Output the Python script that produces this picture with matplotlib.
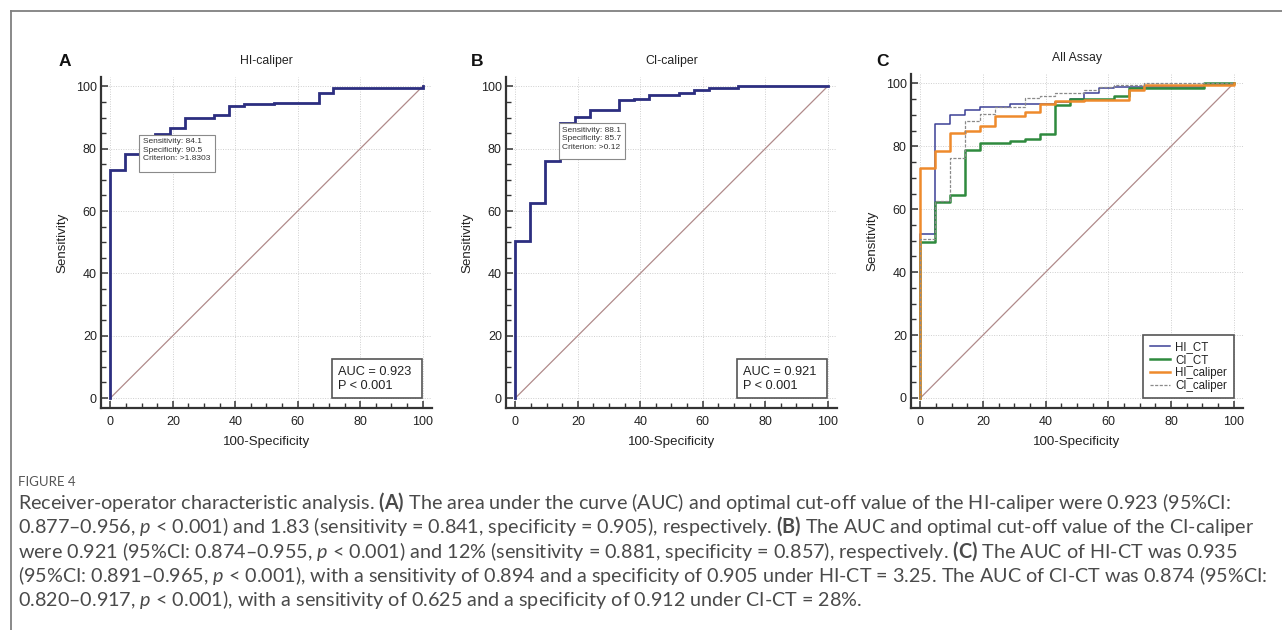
import matplotlib
matplotlib.use('Agg')
import matplotlib.pyplot as plt
from matplotlib.patches import Rectangle
from matplotlib.lines import Line2D
from matplotlib.ticker import MultipleLocator

# ROC curves: 100-Specificity (x) vs Sensitivity (y), step points
hi_caliper_x = [0, 0, 4.76, 9.52, 14.29, 19.05, 23.81, 33.33, 38.10, 42.86, 52.38, 66.67, 71.43, 100]
hi_caliper_y = [0, 73.2, 78.4, 84.1, 84.8, 86.5, 89.7, 90.8, 93.6, 94.3, 94.8, 97.9, 99.5, 100]

ci_caliper_x = [0, 0, 4.76, 9.52, 14.29, 19.05, 23.81, 33.33, 38.10, 42.86, 52.38, 57.14, 61.90, 71.43, 100]
ci_caliper_y = [0, 50.5, 62.5, 76.2, 88.1, 90.3, 92.5, 95.5, 96.1, 97.1, 97.9, 98.9, 99.5, 100, 100]

hi_ct_x = [0, 0, 4.76, 9.52, 14.29, 19.05, 28.57, 42.86, 47.62, 52.38, 57.14, 61.90, 90.48, 100]
hi_ct_y = [0, 52.2, 87.0, 90.1, 91.4, 92.4, 93.4, 94.0, 95.0, 96.8, 98.4, 99.0, 99.5, 100]

ci_ct_x = [0, 0, 4.76, 9.52, 14.29, 19.05, 28.57, 33.33, 38.10, 42.86, 47.62, 61.90, 66.67, 90.48, 100]
ci_ct_y = [0, 49.5, 62.4, 64.5, 78.9, 81.2, 81.8, 82.3, 84.0, 93.1, 95.0, 96.0, 98.4, 100, 100]

panel_titles = ['HI-caliper', 'CI-caliper', 'All Assay']
panel_letters = ['A', 'B', 'C']
auc_labels = ['AUC = 0.923\nP < 0.001', 'AUC = 0.921\nP < 0.001']
criterion_labels = ['Sensitivity: 84.1\nSpecificity: 90.5\nCriterion: >1.8303',
                    'Sensitivity: 88.1\nSpecificity: 85.7\nCriterion: >0.12']
legend_labels = ['HI_CT', 'CI_CT', 'HI_caliper', 'CI_caliper']

caption_title = 'FIGURE 4'
caption_lines = [
    r"Receiver-operator characteristic analysis. $\mathbf{(A)}$ The area under the curve (AUC) and optimal cut-off value of the HI-caliper were 0.923 (95%CI:",
    r"0.877–0.956, $p$ < 0.001) and 1.83 (sensitivity = 0.841, specificity = 0.905), respectively. $\mathbf{(B)}$ The AUC and optimal cut-off value of the CI-caliper",
    r"were 0.921 (95%CI: 0.874–0.955, $p$ < 0.001) and 12% (sensitivity = 0.881, specificity = 0.857), respectively. $\mathbf{(C)}$ The AUC of HI-CT was 0.935",
    r"(95%CI: 0.891–0.965, $p$ < 0.001), with a sensitivity of 0.894 and a specificity of 0.905 under HI-CT = 3.25. The AUC of CI-CT was 0.874 (95%CI:",
    r"0.820–0.917, $p$ < 0.001), with a sensitivity of 0.625 and a specificity of 0.912 under CI-CT = 28%.",
]

CAP_FONT = 'Lato'
plt.rcParams['font.family'] = ['Liberation Sans', 'DejaVu Sans']
plt.rcParams['mathtext.fontset'] = 'custom'
plt.rcParams['mathtext.rm'] = CAP_FONT
plt.rcParams['mathtext.it'] = CAP_FONT + ':italic'
plt.rcParams['mathtext.bf'] = CAP_FONT + ':bold'

W, H = 1282, 630
fig = plt.figure(figsize=(W / 100, H / 100), dpi=100)

NAVY = '#2c2e80'
DIAG = '#b08a8a'

# axes boxes in pixels: left, right, top, bottom
boxes = [(101, 432, 77, 408), (506, 837, 77, 408), (911, 1243, 74, 408)]
letter_x = [65, 477, 882]


def make_axes(box):
    l, r, t, b = box
    return fig.add_axes([l / W, 1 - b / H, (r - l) / W, (b - t) / H])


def style_axes(ax, i):
    ax.set_xlim(-3, 103)
    ax.set_ylim(-3.2, 103)
    for s in ['top', 'right']:
        ax.spines[s].set_visible(False)
    for s in ['left', 'bottom']:
        ax.spines[s].set_linewidth(1.6)
        ax.spines[s].set_color('#333333')
    ax.xaxis.set_major_locator(MultipleLocator(20))
    ax.yaxis.set_major_locator(MultipleLocator(20))
    ax.xaxis.set_minor_locator(MultipleLocator(5))
    ax.yaxis.set_minor_locator(MultipleLocator(5))
    ax.tick_params(which='both', direction='in', colors='#333333', labelcolor='#222222')
    ax.tick_params(which='major', length=5, width=1.1, labelsize=9)
    ax.tick_params(which='minor', length=3.5, width=1.0)
    ax.tick_params(axis='x', which='major', pad=6)
    ax.tick_params(axis='y', which='major', pad=3)
    ax.grid(True, which='major', ls=(0, (1, 1.5)), color='#cfcfcf', lw=0.7)
    ax.set_axisbelow(True)
    ax.plot([0, 100], [0, 100], color=DIAG, lw=0.9, zorder=2)
    ax.text(50, 1.048, panel_titles[i], transform=ax.get_xaxis_transform(),
            ha='center', va='center', fontsize=8.8, color='#222222')
    ax.text(-0.115, 0.5, 'Sensitivity', transform=ax.transAxes, rotation=90,
            ha='center', va='center', fontsize=9.6, color='#222222')
    ax.text(50, -0.103, '100-Specificity', transform=ax.get_xaxis_transform(),
            ha='center', va='center', fontsize=9.6, color='#222222')
    fig.text(letter_x[i] / W, 1 - 61 / H, panel_letters[i], ha='center', va='center',
             fontsize=12.5, fontweight='bold', color='#111111')


def single_panel(ax, i, xs, ys, crit_box, crit_text_xy):
    style_axes(ax, i)
    ax.step(xs, ys, where='post', color=NAVY, lw=2.0, zorder=3, solid_joinstyle='miter')
    # criterion annotation box
    x0, x1, y0, y1 = crit_box
    ax.add_patch(Rectangle((x0, y0), x1 - x0, y1 - y0, facecolor='white',
                           edgecolor='#8a8a8a', lw=0.8, zorder=5))
    ax.text(crit_text_xy[0], crit_text_xy[1], criterion_labels[i], fontsize=6.0,
            color='#333333', ha='left', va='top', linespacing=1.3, zorder=6)
    # AUC box
    ax.add_patch(Rectangle((70.9, 0), 28.8, 12.5, facecolor='white',
                           edgecolor='#555555', lw=1.2, zorder=5))
    ax.text(72.9, 6.2, auc_labels[i], fontsize=9.2, color='#222222',
            ha='left', va='center', linespacing=1.25, zorder=6)


axA = make_axes(boxes[0])
single_panel(axA, 0, hi_caliper_x, hi_caliper_y, (9.3, 33.5, 72.4, 84.3), (10.4, 83.3))

axB = make_axes(boxes[1])
single_panel(axB, 1, ci_caliper_x, ci_caliper_y, (14.1, 35.0, 76.6, 88.1), (15.0, 87.1))

axC = make_axes(boxes[2])
style_axes(axC, 2)
axC.step(hi_ct_x, hi_ct_y, where='post', color='#3c4096', lw=1.1, zorder=3, label=legend_labels[0])
axC.step(ci_ct_x, ci_ct_y, where='post', color='#2f8a3e', lw=1.8, zorder=3, label=legend_labels[1])
axC.step(hi_caliper_x, hi_caliper_y, where='post', color='#ee8a2c', lw=1.8, zorder=4, label=legend_labels[2])
axC.step(ci_caliper_x, ci_caliper_y, where='post', color='#8a8a8a', lw=0.9, ls=(0, (2.5, 1.2)),
         zorder=5, label=legend_labels[3])
leg = axC.legend(loc='lower right', bbox_to_anchor=(0.972, 0.030), borderaxespad=0,
                 fontsize=8.3, handlelength=1.8, handletextpad=0.45, labelspacing=0.08,
                 borderpad=0.55, fancybox=False, framealpha=1)
leg.get_frame().set_edgecolor('#555555')
leg.get_frame().set_linewidth(1.2)
for t in leg.get_texts():
    t.set_color('#222222')

# card frame
fig.add_artist(Line2D([10.5 / W, 1], [1 - 10.5 / H, 1 - 10.5 / H], transform=fig.transFigure,
                      color='#808080', lw=1.3))
fig.add_artist(Line2D([10.5 / W, 10.5 / W], [0, 1 - 10.5 / H], transform=fig.transFigure,
                      color='#808080', lw=1.3))

# caption
fig.text(18 / W, 1 - 486 / H, caption_title, fontsize=9.5, color='#555555',
         family=CAP_FONT, ha='left', va='baseline')
baselines = [509, 533, 558, 582, 606]
texts = []
for line, yb in zip(caption_lines, baselines):
    texts.append(fig.text(18 / W, 1 - yb / H, line, fontsize=11, color='#4a4a4a',
                          family=CAP_FONT, ha='left', va='baseline'))
renderer = fig.canvas.get_renderer()
w = texts[0].get_window_extent(renderer).width
scale = (1232 - 18) / w
for t in texts:
    t.set_fontsize(11 * scale)

fig.savefig('out.png', dpi=100)
